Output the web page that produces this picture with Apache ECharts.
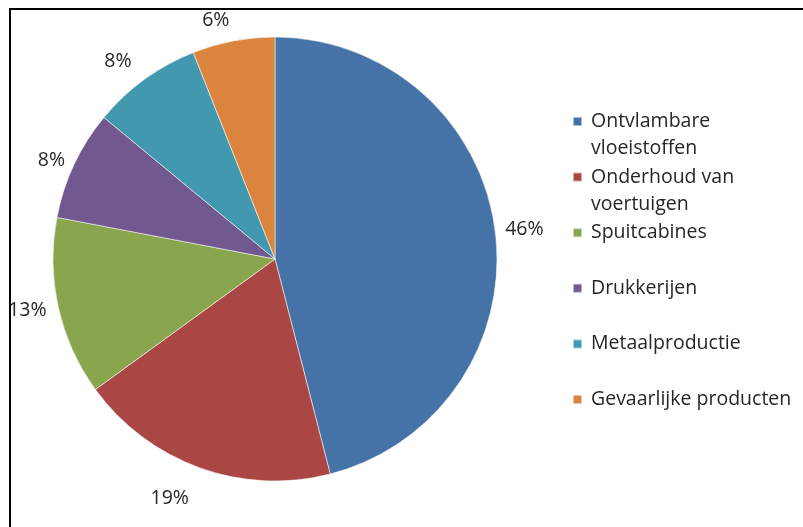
<!DOCTYPE html>
<html>
<head>
<meta charset="utf-8">
<script src="https://cdn.jsdelivr.net/npm/echarts@6/dist/echarts.min.js"></script>
<style>
  html, body { margin: 0; padding: 0; background: #fff; }
  #chart { width: 803px; height: 527px; }
</style>
</head>
<body>
<div id="chart"></div>
<script>
// Sectors (clockwise from 12 o'clock) and their shares in percent
const categories = [
  'Ontvlambare\nvloeistoffen',
  'Onderhoud van\nvoertuigen',
  'Spuitcabines',
  'Drukkerijen',
  'Metaalproductie',
  'Gevaarlijke producten'
];
const shares = [46, 19, 13, 8, 8, 6];

// Styling per slice: fill colour and how far its percentage sits outside the rim
const colors = ['#4572A7', '#AA4643', '#89A54E', '#71588F', '#4198AF', '#DB843D'];
const labelGaps = [10, 32, 12, 10, 22, 21];

const FONT = '"Open Sans", "Noto Sans", sans-serif';
const TEXT = '#262626';

const chart = echarts.init(document.getElementById('chart'), null, { renderer: 'canvas' });

// Legend entries are padded to three rows (blank, name, rest) so the swatch
// lines up with the first row of the name.
function legendText(name) {
  const rows = name.split('\n');
  while (rows.length < 2) rows.push(' ');
  return ' \n' + rows.join('\n');
}

chart.setOption({
  backgroundColor: '#ffffff',
  animation: false,
  color: colors,
  legend: {
    orient: 'vertical',
    left: 572,
    top: 81,
    padding: 0,
    itemGap: -25.4,
    itemWidth: 9,
    itemHeight: 9,
    icon: 'rect',
    formatter: legendText,
    textStyle: {
      fontFamily: FONT,
      fontSize: 19.5,
      lineHeight: 27,
      color: TEXT,
      padding: [0, 0, 0, 4]
    },
    data: categories
  },
  graphic: [
    { type: 'line', shape: { x1: 9, y1: 9, x2: 803, y2: 9 }, style: { stroke: '#000', lineWidth: 2 } },
    { type: 'line', shape: { x1: 10, y1: 8, x2: 10, y2: 527 }, style: { stroke: '#000', lineWidth: 2 } }
  ],
  series: [{
    type: 'pie',
    center: [275, 259],
    radius: 222,
    startAngle: 90,
    clockwise: true,
    avoidLabelOverlap: false,
    itemStyle: { borderColor: 'rgba(255,255,255,0.55)', borderWidth: 1 },
    label: {
      show: true,
      position: 'outside',
      formatter: '{d}%',
      fontFamily: FONT,
      fontSize: 19.5,
      color: TEXT,
      distanceToLabelLine: 0
    },
    labelLine: { show: false, length: 10, length2: 0 },
    emphasis: { disabled: true },
    data: categories.map((name, i) => ({
      name: name,
      value: shares[i],
      labelLine: { length: labelGaps[i] }
    }))
  }]
});
</script>
</body>
</html>
